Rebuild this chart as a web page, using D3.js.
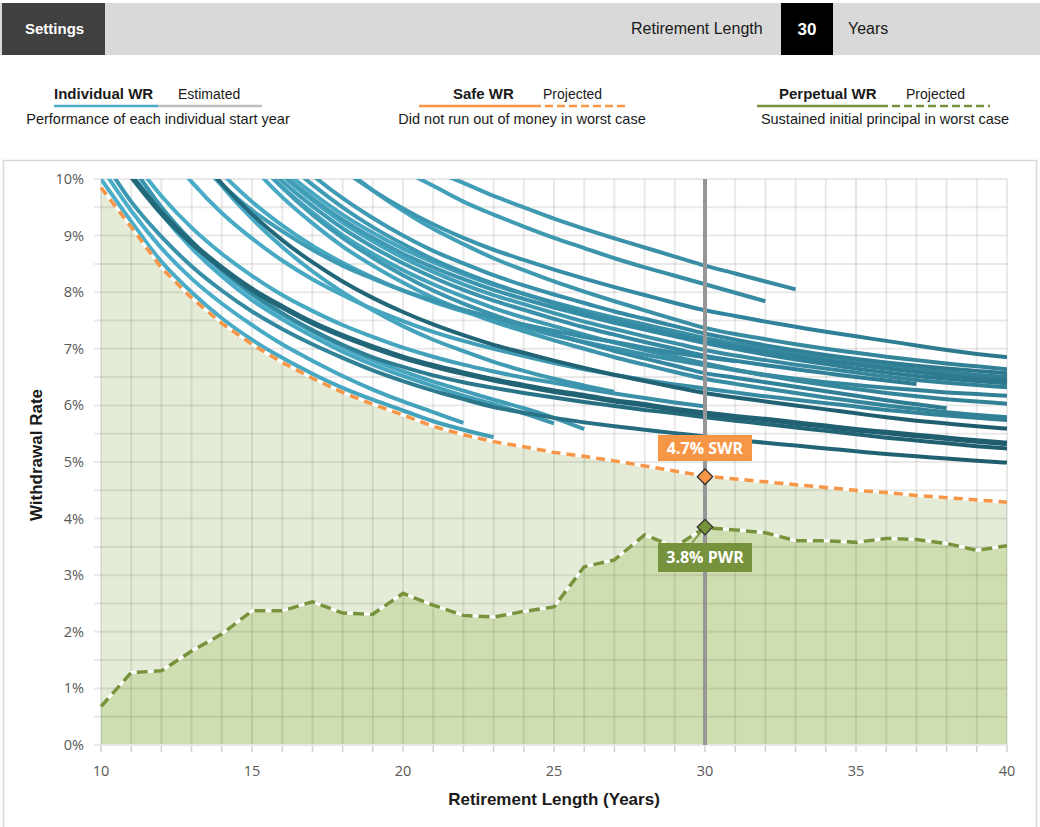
<!DOCTYPE html>
<html><head><meta charset="utf-8">
<script src="https://cdn.jsdelivr.net/npm/d3@7"></script>
<style>
body{margin:0;background:#fff;}
svg{display:block;}
</style></head><body>
<svg id="c" width="1040" height="827"></svg>
<script>
// ---------- DATA ----------
const years = [10,11,12,13,14,15,16,17,18,19,20,21,22,23,24,25,26,27,28,29,30,31,32,33,34,35,36,37,38,39,40];
const safeWR = [9.85,9.15,8.43,7.9,7.45,7.08,6.76,6.48,6.23,6.02,5.83,5.63,5.48,5.36,5.27,5.17,5.1,5.02,4.93,4.84,4.75,4.7,4.65,4.6,4.55,4.5,4.46,4.41,4.37,4.33,4.29];
const perpetualWR = [0.68,1.28,1.31,1.66,1.96,2.37,2.37,2.53,2.33,2.31,2.68,2.47,2.29,2.26,2.36,2.44,3.15,3.27,3.71,3.5,3.84,3.8,3.75,3.61,3.61,3.58,3.65,3.63,3.56,3.44,3.52];
const yTickValues = [0,0.5,1,1.5,2,2.5,3,3.5,4,4.5,5,5.5,6,6.5,7,7.5,8,8.5,9,9.5,10];
const yTickLabels = [0,1,2,3,4,5,6,7,8,9,10];
const xTickLabels = [10,15,20,25,30,35,40];
const selectedYear = 30;
const selectedSWR = 4.74;
const selectedPWR = 3.85;

// individual start-year series: first year of each series, then its values year by year
const individualStart = [21,20,18,17,16,15,15,14,15,14,14,13,13,12,13,16,12,11,11,11,10,11,11,10,10,12];
const individualValues = [
  [10.15,9.93,9.7,9.5,9.3,9.12,8.95,8.79,8.63,8.47,8.33,8.19,8.05],
  [10.15,9.88,9.6,9.37,9.16,8.96,8.78,8.6,8.44,8.29,8.14,7.99,7.84],
  [10.16,9.8,9.48,9.2,8.96,8.75,8.57,8.4,8.24,8.09,7.95,7.81,7.68,7.58,7.48,7.39,7.3,7.22,7.14,7.06,6.98,6.91,6.85],
  [10.72,10.22,9.8,9.44,9.12,8.85,8.6,8.39,8.19,8.01,7.84,7.68,7.52,7.37,7.26,7.17,7.08,7.0,6.93,6.86,6.8,6.74,6.69,6.64],
  [10.55,10.07,9.66,9.31,9.0,8.73,8.51,8.3,8.12,7.96,7.81,7.66,7.53,7.4,7.27,7.16,7.06,6.97,6.89,6.82,6.76,6.7,6.65,6.61,6.57],
  [10.69,10.18,9.75,9.37,9.05,8.77,8.53,8.32,8.13,7.97,7.82,7.68,7.55,7.43,7.31,7.19,7.09,7.0,6.91,6.83,6.76,6.7,6.64,6.59,6.54,6.5],
  [10.6,10.09,9.66,9.28,8.96,8.68,8.44,8.23,8.04,7.88,7.73,7.59,7.46,7.34,7.22,7.1,7.0,6.9,6.81,6.73,6.65,6.58,6.52,6.47,6.43,6.39],
  [11.2,10.59,10.06,9.62,9.23,8.9,8.61,8.36,8.14,7.95,7.79,7.63,7.48,7.35,7.22,7.1,6.98,6.88,6.8,6.72,6.65,6.58,6.51,6.45,6.4,6.36,6.32],
  [10.49,9.96,9.52,9.13,8.8,8.51,8.26,8.04,7.85,7.69,7.53,7.38,7.25,7.12,7.0,6.88,6.79,6.71,6.64,6.57,6.5,6.44,6.38],
  [11.0,10.39,9.86,9.41,9.01,8.68,8.39,8.14,7.92,7.72,7.55,7.4,7.25,7.11,6.98,6.86,6.74,6.63,6.53,6.44,6.36,6.29,6.22,6.16,6.11,6.07,6.03],
  [11.05,10.4,9.85,9.37,8.96,8.61,8.3,8.03,7.8,7.6,7.42,7.26,7.11,6.96,6.83,6.7,6.57,6.49,6.41,6.33,6.25,6.17,6.09,6.02,5.95],
  [11.62,10.86,10.23,9.68,9.22,8.81,8.47,8.17,7.9,7.68,7.48,7.31,7.15,7.0,6.85,6.72,6.59,6.47,6.38,6.3,6.22,6.14,6.07,6.0,5.94,5.88,5.83,5.79],
  [10.42,9.9,9.45,9.08,8.75,8.47,8.24,8.03,7.85,7.69,7.55,7.43,7.32,7.21,7.12,7.02,6.93,6.85,6.78],
  [11.32,10.55,9.92,9.38,8.92,8.53,8.19,7.9,7.65,7.43,7.24,7.07,6.93,6.79,6.66,6.54,6.43,6.32,6.22,6.14,6.07,6.0,5.93,5.86,5.79,5.73,5.68,5.63,5.59],
  [10.7,10.1,9.6,9.18,8.82,8.52,8.26,8.03,7.83,7.66,7.51,7.37,7.24,7.12,7.01,6.9,6.8,6.71,6.62,6.54,6.47,6.41,6.36,6.31,6.27,6.23,6.2,6.17],
  [10.35,9.9,9.5,9.15,8.85,8.58,8.35,8.15,7.97,7.8,7.64,7.5,7.37,7.25,7.14,7.04,6.95,6.87,6.79,6.72,6.65,6.59,6.53,6.48,6.44],
  [11.42,10.58,9.88,9.3,8.8,8.37,8.0,7.68,7.4,7.16,6.96,6.77,6.61,6.47,6.35,6.24],
  [10.38,9.7,9.14,8.68,8.29,7.95,7.67,7.42,7.21,7.02,6.86,6.72,6.6,6.49,6.4,6.3,6.21,6.13,6.05,5.98],
  [10.1,9.38,8.78,8.28,7.86,7.52,7.22,6.95,6.72,6.52,6.34,6.17,6.02,5.86,5.68],
  [10.25,9.5,8.88,8.37,7.95,7.6,7.3,7.03,6.8,6.6,6.42,6.26,6.1,5.95,5.78,5.58],
  [10.0,9.25,8.54,8.0,7.54,7.16,6.84,6.56,6.31,6.1,5.91,5.72,5.57,5.44],
  [10.05,9.4,8.87,8.43,8.05,7.74,7.46,7.23,7.03,6.85,6.7,6.57,6.45,6.35,6.25,6.17,6.08,6.01,5.93,5.86,5.8,5.75,5.69,5.63,5.57,5.52,5.47,5.42,5.37,5.33],
  [10.25,9.5,8.9,8.4,7.98,7.63,7.33,7.07,6.85,6.68,6.53,6.41,6.31,6.22,6.14,6.06,5.99,5.92,5.86,5.79,5.73,5.67,5.61,5.55,5.49,5.43,5.38,5.33,5.28,5.24],
  [10.4,9.6,8.98,8.46,8.03,7.66,7.35,7.08,6.84,6.62,6.43,6.26,6.11,5.97,5.87,5.78,5.7,5.63,5.57,5.51,5.45,5.39,5.34,5.29,5.24,5.19,5.14,5.1,5.06,5.02,4.99],
  [10.22,9.44,8.78,8.24,7.8,7.42,7.08,6.79,6.52,6.28,6.07,5.88,5.69],
  [10.6,9.95,9.4,8.95,8.56,8.23,7.95,7.7,7.49,7.3,7.14,7.0,6.87,6.75,6.64,6.54,6.45,6.37,6.3,6.23,6.16,6.1,6.04,5.98,5.92,5.87,5.82,5.78,5.74]
];
// shade of each series (styling key)
const individualShade = ['L','L','M','L','M','L','M','L','M','L','M','L','M','D','L','M','L','L','L','L','L','T','E','E','L','L'];

// ---------- CHART ----------
const svg = d3.select('#c');
const W = 1040;
const x = d3.scaleLinear().domain([10,40]).range([101,1007]);
const y = d3.scaleLinear().domain([0,10]).range([745,179]);
const FONT = "'Liberation Sans', Arial, sans-serif";
const TFONT = "'Open Sans', 'DejaVu Sans', sans-serif";

const defs = svg.append('defs');
defs.append('clipPath').attr('id','plotClip').append('rect')
  .attr('x',x(10)).attr('y',y(10)).attr('width',x(40)-x(10)).attr('height',y(0)-y(10));
function grad(id, stops){
  const g = defs.append('linearGradient').attr('id',id).attr('gradientUnits','userSpaceOnUse')
    .attr('x1',x(10)).attr('x2',x(40)).attr('y1',0).attr('y2',0);
  stops.forEach(s=>g.append('stop').attr('offset',s[0]).attr('stop-color',s[1]));
}
grad('gL',[[0,'#4bafca'],[0.3,'#46a6c0'],[0.6,'#3a90a7'],[1,'#317f94']]);
grad('gM',[[0,'#45a7c1'],[0.35,'#3d97b0'],[0.65,'#3286a0'],[1,'#2c778b']]);
grad('gD',[[0,'#236a7d'],[1,'#1f5d6e']]);
grad('gE',[[0,'#3c9ab3'],[0.3,'#2f7f94'],[0.6,'#256b7e'],[1,'#1f5d6e']]);

// header
svg.append('rect').attr('x',0).attr('y',3).attr('width',W).attr('height',52).attr('fill','#d9d9d9');
svg.append('rect').attr('x',2).attr('y',3).attr('width',103).attr('height',52).attr('fill','#404040');
svg.append('text').attr('x',25).attr('y',34).attr('fill','#fff').attr('font-family',FONT)
  .attr('font-weight','bold').attr('font-size',15).text('Settings');
svg.append('text').attr('x',631).attr('y',34).attr('fill','#1a1a1a').attr('font-family',FONT)
  .attr('font-size',16).text('Retirement Length');
svg.append('rect').attr('x',781).attr('y',3).attr('width',52).attr('height',52).attr('fill','#000');
svg.append('text').attr('x',807).attr('y',35).attr('text-anchor','middle').attr('fill','#fff')
  .attr('font-family',FONT).attr('font-weight','bold').attr('font-size',17).text(String(selectedYear));
svg.append('text').attr('x',848).attr('y',34).attr('fill','#1a1a1a').attr('font-family',FONT)
  .attr('font-size',16).text('Years');

// legend
function legend(bx, title, sub, sx, lineColor, l1, l2, l3, dashed2, desc, cx){
  svg.append('text').attr('x',bx).attr('y',99).attr('font-family',FONT).attr('font-weight','bold')
    .attr('font-size',15).attr('fill','#1a1a1a').text(title);
  svg.append('text').attr('x',sx).attr('y',99).attr('font-family',FONT)
    .attr('font-size',14).attr('fill','#1a1a1a').text(sub);
  svg.append('line').attr('x1',l1).attr('x2',l2).attr('y1',106).attr('y2',106)
    .attr('stroke',lineColor).attr('stroke-width',2.5);
  const s = svg.append('line').attr('x1',l2).attr('x2',l3).attr('y1',106).attr('y2',106)
    .attr('stroke',dashed2 ? lineColor : '#bfbfbf').attr('stroke-width',2.5);
  if (dashed2) s.attr('stroke-dasharray','8,4');
  svg.append('text').attr('x',cx).attr('y',124).attr('text-anchor','middle').attr('font-family',FONT)
    .attr('font-size',14.5).attr('fill','#1a1a1a').text(desc);
}
legend(54,'Individual WR','Estimated',178,'#4bacc6',54,158,262,false,'Performance of each individual start year',158);
legend(453,'Safe WR','Projected',543,'#f79646',419,533,627,true,'Did not run out of money in worst case',522);
legend(779,'Perpetual WR','Projected',906,'#77933c',757,880,990,true,'Sustained initial principal in worst case',885);

// panel
svg.append('rect').attr('x',3.5).attr('y',160.5).attr('width',1033).attr('height',700)
  .attr('fill','#fff').attr('stroke','#d9d9d9').attr('stroke-width',1.5);

// areas
const safePts = years.map((yr,i)=>[yr,safeWR[i]]);
const perpPts = years.map((yr,i)=>[yr,perpetualWR[i]]);
const area = d3.area().x(d=>x(d[0])).y0(y(0)).y1(d=>y(d[1]));
svg.append('path').datum(safePts).attr('d',area).attr('fill','#e4ecd7');
svg.append('path').datum(perpPts).attr('d',area).attr('fill','#cfdeb0');

// grid
const grid = svg.append('g').attr('stroke','rgba(0,0,0,0.085)').attr('stroke-width',2);
years.forEach(yr=>grid.append('line').attr('x1',x(yr)).attr('x2',x(yr)).attr('y1',y(10)).attr('y2',y(0)));
yTickValues.forEach(v=>grid.append('line').attr('x1',x(10)-7).attr('x2',x(40)).attr('y1',y(v)).attr('y2',y(v)));
// x axis ticks
const xt = svg.append('g').attr('stroke','#d0d0d0').attr('stroke-width',1.5);
years.forEach(yr=>xt.append('line').attr('x1',x(yr)).attr('x2',x(yr)).attr('y1',y(0)).attr('y2',y(0)+7));
svg.append('line').attr('x1',x(10)).attr('x2',x(40)).attr('y1',y(0)).attr('y2',y(0))
  .attr('stroke','#e6e6e6').attr('stroke-width',2);

// tick labels
yTickLabels.forEach(v=>svg.append('text').attr('x',84).attr('y',y(v)+5).attr('text-anchor','end')
  .attr('font-family',TFONT).attr('font-size',14.5).attr('fill','#595959').text(v+'%'));
xTickLabels.forEach(v=>svg.append('text').attr('x',x(v)).attr('y',776).attr('text-anchor','middle')
  .attr('font-family',TFONT).attr('font-size',14.5).attr('fill','#595959').text(v));
svg.append('text').attr('transform','translate(42,455) rotate(-90)').attr('text-anchor','middle')
  .attr('font-family',FONT).attr('font-weight','bold').attr('font-size',17).attr('fill','#1a1a1a').text('Withdrawal Rate');
svg.append('text').attr('x',554).attr('y',805).attr('text-anchor','middle')
  .attr('font-family',FONT).attr('font-weight','bold').attr('font-size',17).attr('fill','#1a1a1a').text('Retirement Length (Years)');

// individual lines
const line = d3.line().x(d=>x(d[0])).y(d=>y(d[1])).curve(d3.curveMonotoneX);
const lg = svg.append('g').attr('clip-path','url(#plotClip)').attr('fill','none');
const order = {L:0,M:1,E:2,T:3,D:4};
const strokeFor = {L:'url(#gL)',M:'url(#gM)',E:'url(#gE)',T:'url(#gD)',D:'url(#gD)'};
const idx = individualValues.map((v,i)=>i).sort((a,b)=>order[individualShade[a]]-order[individualShade[b]]);
idx.forEach(i=>{
  const pts = individualValues[i].map((v,k)=>[individualStart[i]+k, v]);
  const sh = individualShade[i];
  lg.append('path').datum(pts).attr('d',line)
    .attr('stroke', strokeFor[sh])
    .attr('stroke-width', sh==='T'?5.5:4);
});

// selected year marker
svg.append('line').attr('x1',x(selectedYear)).attr('x2',x(selectedYear)).attr('y1',y(10)).attr('y2',y(0))
  .attr('stroke','#969696').attr('stroke-width',4);

// dashed projection lines
const pl = d3.line().x(d=>x(d[0])).y(d=>y(d[1]));
svg.append('path').datum(safePts).attr('d',pl).attr('fill','none').attr('stroke','#fff').attr('stroke-width',3);
svg.append('path').datum(safePts).attr('d',pl).attr('fill','none').attr('stroke','#f79646').attr('stroke-width',3.5).attr('stroke-dasharray','9,6');
svg.append('path').datum(perpPts).attr('d',pl).attr('fill','none').attr('stroke','#fff').attr('stroke-width',3);
svg.append('path').datum(perpPts).attr('d',pl).attr('fill','none').attr('stroke','#77933c').attr('stroke-width',3.5).attr('stroke-dasharray','11,6');

// labels
svg.append('rect').attr('x',658).attr('y',435).attr('width',94).attr('height',26).attr('fill','#f79646');
svg.append('text').attr('x',705).attr('y',454).attr('text-anchor','middle').attr('font-family',TFONT)
  .attr('font-weight','bold').attr('font-size',16).attr('fill','#fff').text('4.7% SWR');
svg.append('rect').attr('x',658).attr('y',543).attr('width',94).attr('height',29).attr('fill','#76923c');
svg.append('text').attr('x',705).attr('y',563).attr('text-anchor','middle').attr('font-family',TFONT)
  .attr('font-weight','bold').attr('font-size',16).attr('fill','#fff').text('3.8% PWR');
svg.append('line').attr('x1',x(selectedYear)).attr('y1',y(selectedPWR)).attr('x2',692).attr('y2',543)
  .attr('stroke','#76923c').attr('stroke-width',1.5);

// diamonds
const sym = d3.symbol().type(d3.symbolSquare).size(120);
svg.append('path').attr('d',sym).attr('transform',`translate(${x(selectedYear)},${y(selectedSWR)}) rotate(45)`)
  .attr('fill','#f79646').attr('stroke','#333').attr('stroke-width',1.3);
svg.append('path').attr('d',sym).attr('transform',`translate(${x(selectedYear)},${y(selectedPWR)}) rotate(45)`)
  .attr('fill','#77933c').attr('stroke','#333').attr('stroke-width',1.3);
</script>
</body></html>
